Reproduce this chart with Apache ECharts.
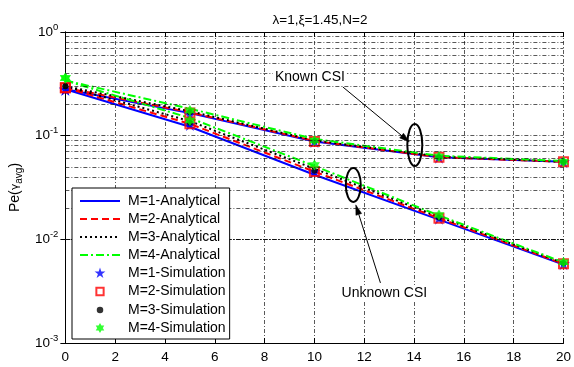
<!DOCTYPE html>
<html><head><meta charset="utf-8">
<script src="https://cdn.jsdelivr.net/npm/echarts@6/dist/echarts.min.js"></script>
<style>html,body{margin:0;padding:0;background:#fff}#c{width:574px;height:367px}</style>
</head><body><div id="c"></div>
<script>
// ---- data ----
const snr = [0, 5, 10, 15, 20];
const xTicks = [0, 2, 4, 6, 8, 10, 12, 14, 16, 18, 20];
const yTickExp = [-3, -2, -1, 0];
const yMinorTicks = [0.002,0.003,0.004,0.005,0.006,0.007,0.008,0.009,
  0.02,0.03,0.04,0.05,0.06,0.07,0.08,0.09,
  0.2,0.3,0.4,0.5,0.6,0.7,0.8,0.9];
const names = ['M=1-Analytical','M=2-Analytical','M=3-Analytical','M=4-Analytical',
  'M=1-Simulation','M=2-Simulation','M=3-Simulation','M=4-Simulation'];
// Known CSI (analytical)
const knownM1 = [0.280, 0.165, 0.088, 0.062, 0.056];
const knownM2 = [0.290, 0.168, 0.089, 0.062, 0.056];
const knownM3 = [0.300, 0.172, 0.090, 0.063, 0.056];
const knownM4 = [0.340, 0.182, 0.093, 0.064, 0.057];
// Unknown CSI (analytical)
const unknownM1 = [0.280, 0.122, 0.042, 0.0155, 0.0057];
const unknownM2 = [0.290, 0.130, 0.045, 0.0160, 0.0058];
const unknownM3 = [0.300, 0.138, 0.048, 0.0165, 0.0059];
const unknownM4 = [0.340, 0.148, 0.051, 0.0170, 0.0060];
// Simulation points
const simKnownM1 = [0.280, 0.160, 0.088, 0.062, 0.056];
const simKnownM2 = [0.290, 0.165, 0.088, 0.062, 0.056];
const simKnownM3 = [0.300, 0.168, 0.089, 0.062, 0.056];
const simKnownM4 = [0.360, 0.175, 0.090, 0.063, 0.056];
const simUnknownM1 = [0.280, 0.128, 0.045, 0.0160, 0.0058];
const simUnknownM2 = [0.290, 0.130, 0.045, 0.0160, 0.0058];
const simUnknownM3 = [0.300, 0.133, 0.046, 0.0162, 0.0059];
const simUnknownM4 = [0.360, 0.140, 0.052, 0.0172, 0.0060];

// ---- chart ----
const chart = echarts.init(document.getElementById('c'));
const FONT = 'Liberation Sans, Arial, sans-serif';
const pair = (arr) => snr.map((x, i) => [x, arr[i]]);
const STAR = 'path://M50,0 L61.2,34.5 L97.6,34.5 L68.2,55.9 L79.4,90.5 L50,69.1 L20.6,90.5 L31.8,55.9 L2.4,34.5 L38.8,34.5 Z';
const HEX = 'path://M50,0 L93.3,75 L6.7,75 Z M50,100 L6.7,25 L93.3,25 Z';
// legend icons: invisible move-tos fix the bounding box so the glyph can be smaller than the icon box
const BOX = 'M0,0 M100,100 ';
const L_STAR = 'path://' + BOX + 'M50,8 L59.9,38.4 L91.8,38.4 L66,57.2 L75.9,87.6 L50,68.8 L24.1,87.6 L34,57.2 L8.2,38.4 L40.1,38.4 Z';
const L_RECT = 'path://' + BOX + 'M22,22 L78,22 L78,78 L22,78 Z';
const L_CIRC = 'path://' + BOX + 'M50,25 A25,25 0 1,1 50,75 A25,25 0 1,1 50,25 Z';
const L_HEX = 'path://' + BOX + 'M50,12 L82.9,69 L17.1,69 Z M50,88 L17.1,31 L82.9,31 Z';
const legendIcons = [L_STAR, L_RECT, L_CIRC, L_HEX];

const lineStyles = [
  {color:'#0000ff', type:'solid'},
  {color:'#ff0000', type:[7,4]},
  {color:'#000000', type:[2,3]},
  {color:'#00ff00', type:[8,3,2,3]}
];
const simStyles = [
  {symbol: STAR, symbolSize: 13, itemStyle:{color:'#0000ff'}},
  {symbol: 'rect', symbolSize: 9, itemStyle:{color:'rgba(255,255,255,0)', borderColor:'#ff0000', borderWidth:2}},
  {symbol: 'circle', symbolSize: 6, itemStyle:{color:'#000000'}},
  {symbol: HEX, symbolSize: 11, itemStyle:{color:'#00ff00'}}
];
const knownA = [knownM1, knownM2, knownM3, knownM4];
const unknownA = [unknownM1, unknownM2, unknownM3, unknownM4];
const simK = [simKnownM1, simKnownM2, simKnownM3, simKnownM4];
const simU = [simUnknownM1, simUnknownM2, simUnknownM3, simUnknownM4];

const series = [];
for (let m = 0; m < 4; m++) {
  [knownA[m], unknownA[m]].forEach(arr => {
    series.push({
      name: names[m], type: 'line', data: pair(arr), symbol: 'none',
      lineStyle: {color: lineStyles[m].color, type: lineStyles[m].type, width: 2},
      itemStyle: {color: lineStyles[m].color},
      z: 3, animation: false
    });
  });
}
for (let m = 0; m < 4; m++) {
  [simK[m], simU[m]].forEach(arr => {
    series.push(Object.assign({
      name: names[4 + m], type: 'scatter', data: pair(arr), clip: false, z: 4, animation: false
    }, simStyles[m]));
  });
}
// minor log grid lines (drawn through the y scale)
const GRID_LINE = {color: '#111', type: [4,2,1,2], width: 0.7};
series.push({
  type: 'line', data: [], silent: true, animation: false,
  markLine: {
    silent: true, symbol: ['none','none'], label: {show: false}, animation: false,
    lineStyle: GRID_LINE,
    data: yMinorTicks.map(v => ({yAxis: v}))
  }
});

const supLabel = (v) => {
  const e = Math.round(Math.log10(v));
  if (yTickExp.indexOf(e) < 0) return '';
  return '{b|10}{s|' + e + '}';
};

const legendData = names.map((n, i) => i < 4
  ? {name: n, itemStyle: {opacity: 0}}
  : {name: n, icon: legendIcons[i - 4]});

chart.setOption({
  backgroundColor: '#fff',
  animation: false,
  textStyle: {fontFamily: FONT},
  title: {
    text: 'λ=1,ξ=1.45,N=2', left: 315, top: 8, textAlign: 'center',
    textStyle: {fontFamily: FONT, fontSize: 13.5, fontWeight: 'normal', color: '#000'}
  },
  grid: {left: 65, right: 8, top: 32, bottom: 24},
  legend: {
    orient: 'vertical', left: 72, top: 188,
    data: legendData,
    itemWidth: 40, itemHeight: 13, itemGap: 4,
    padding: [6, 4, 4, 7],
    backgroundColor: '#fff', borderColor: '#000', borderWidth: 1,
    textStyle: {fontFamily: FONT, fontSize: 14, color: '#000', padding: [0,0,0,3]},
    selectedMode: false, z: 10
  },
  xAxis: [{
    type: 'value', min: 0, max: 20, interval: 2,
    axisLine: {show: true, onZero: false, lineStyle: {color: '#000', width: 1}},
    axisTick: {show: true, inside: true, length: 5, lineStyle: {color: '#000'}},
    axisLabel: {color: '#000', fontSize: 13.5, fontFamily: FONT, margin: 7,
      formatter: v => xTicks.indexOf(v) >= 0 ? String(v) : ''},
    splitLine: {show: true, lineStyle: GRID_LINE}
  }, {
    type: 'value', min: 0, max: 20, interval: 2, position: 'top',
    axisLine: {show: true, onZero: false, lineStyle: {color: '#000', width: 1}},
    axisTick: {show: true, inside: true, length: 5, lineStyle: {color: '#000'}},
    axisLabel: {show: false}, splitLine: {show: false}
  }],
  yAxis: [{
    type: 'log', logBase: 10, min: 0.001, max: 1,
    name: '{t|Pe(}{g|γ}{sub|avg}{t|)}', nameLocation: 'middle', nameRotate: 90, nameGap: 33,
    nameTextStyle: {
      rich: {
        t: {fontSize: 14, fontFamily: FONT, color: '#000'},
        g: {fontSize: 11, fontFamily: 'DejaVu Sans', color: '#000'},
        sub: {fontSize: 10, fontFamily: FONT, color: '#000', padding: [8,0,0,0]}
      }
    },
    axisLine: {show: true, lineStyle: {color: '#000', width: 1}},
    axisTick: {show: true, inside: true, length: 5, lineStyle: {color: '#000'}},
    axisLabel: {
      margin: 7, formatter: supLabel,
      rich: {
        b: {fontSize: 13.5, fontFamily: FONT, color: '#000'},
        s: {fontSize: 9.5, fontFamily: FONT, color: '#000', padding: [0,0,10,0]}
      }
    },
    splitLine: {show: true, lineStyle: GRID_LINE}
  }, {
    type: 'log', logBase: 10, min: 0.001, max: 1, position: 'right',
    axisLine: {show: true, lineStyle: {color: '#000', width: 1}},
    axisTick: {show: true, inside: true, length: 5, lineStyle: {color: '#000'}},
    axisLabel: {show: false}, splitLine: {show: false}
  }],
  series: series
});

// ---- annotations (anchored in data coordinates) ----
const ann = {
  knownText: [9.82, 0.368],
  knownArrowFrom: [11.14, 0.295], knownArrowTo: [13.81, 0.087],
  knownEllipse: [14.03, 0.0813],
  unknownText: [12.81, 0.00304],
  unknownArrowFrom: [12.65, 0.0038], unknownArrowTo: [11.66, 0.0215],
  unknownEllipse: [11.56, 0.0335]
};
const px = (p) => chart.convertToPixel({xAxisIndex: 0, yAxisIndex: 0}, p);
function arrow(from, to) {
  const a = px(from), b = px(to);
  const dx = b[0]-a[0], dy = b[1]-a[1], L = Math.hypot(dx, dy);
  const ux = dx/L, uy = dy/L, hl = 10, hw = 3;
  const bx = b[0]-ux*hl, by = b[1]-uy*hl;
  return [
    {type: 'line', shape: {x1: a[0], y1: a[1], x2: bx, y2: by}, style: {stroke: '#000', lineWidth: 1}, z: 20},
    {type: 'polygon', shape: {points: [[b[0], b[1]], [bx - uy*hw, by + ux*hw], [bx + uy*hw, by - ux*hw]]},
      style: {fill: '#000', stroke: '#000', lineWidth: 0.5}, z: 20}
  ];
}
const kE = px(ann.knownEllipse), uE = px(ann.unknownEllipse);
const kT = px(ann.knownText), uT = px(ann.unknownText);
const gfx = [].concat(
  arrow(ann.knownArrowFrom, ann.knownArrowTo),
  arrow(ann.unknownArrowFrom, ann.unknownArrowTo),
  [
    {type: 'ellipse', shape: {cx: kE[0], cy: kE[1], rx: 7.5, ry: 21}, style: {fill: 'none', stroke: '#000', lineWidth: 2}, z: 20},
    {type: 'ellipse', shape: {cx: uE[0], cy: uE[1], rx: 7.5, ry: 17}, style: {fill: 'none', stroke: '#000', lineWidth: 2}, z: 20},
    {type: 'text', x: kT[0], y: kT[1], z: 21,
      style: {text: 'Known CSI', fontSize: 14, fontFamily: FONT, fill: '#000', align: 'center', verticalAlign: 'middle',
        backgroundColor: '#fff', padding: [1, 2]}},
    {type: 'text', x: uT[0], y: uT[1], z: 21,
      style: {text: 'Unknown CSI', fontSize: 14, fontFamily: FONT, fill: '#000', align: 'center', verticalAlign: 'middle',
        backgroundColor: '#fff', padding: [1, 2]}}
  ]
);
chart.setOption({graphic: gfx});
</script>
</body></html>
